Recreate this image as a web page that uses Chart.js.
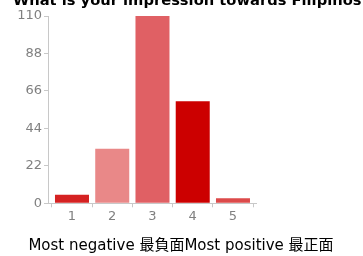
<!DOCTYPE html>
<html>
<head>
<meta charset="utf-8">
<script src="https://cdn.jsdelivr.net/npm/chart.js@4"></script>
<style>
  html, body { margin: 0; padding: 0; background: #fff; }
  #wrap { width: 363px; height: 256px; position: relative; }
</style>
</head>
<body>
<div id="wrap"><canvas id="impressionChart" width="363" height="256"></canvas></div>
<script>
const categories = ["1", "2", "3", "4", "5"];
const responses = [5, 32, 110, 60, 3];
const barColors = ["#d52222", "#e98888", "#e06064", "#cc0000", "#dc4a4a"];
const yTicks = [0, 22, 44, 66, 88, 110];

const chartTitle = "What is your impression towards Filipinos";
const axisTitle = "Most negative 最負面Most positive 最正面";

const tickFont = { family: "'DejaVu Sans', sans-serif", size: 13 };

// bars sit on a numeric x axis so the gap before the first bar can match
const barPoints = categories.map((c, i) => ({ x: i + 1, y: responses[i] }));

// the chart title sits half off the top edge and the axis title is centred
// on the whole picture, not on the plot, so both are drawn here
const extraText = {
    id: "extraText",
    afterDraw(chart) {
        const ctx = chart.ctx;
        ctx.save();
        ctx.fillStyle = "#000";
        ctx.textBaseline = "alphabetic";
        ctx.textAlign = "left";
        ctx.font = "bold 14.7px 'DejaVu Sans', sans-serif";
        ctx.fillText(chartTitle, 13, 5);

        ctx.textAlign = "center";
        ctx.textBaseline = "middle";
        ctx.font = "15px 'DejaVu Sans', 'Noto Sans CJK TC', sans-serif";
        ctx.fillText(axisTitle, 181, 246);
        ctx.restore();
    }
};

new Chart(
    document.getElementById("impressionChart"),
    {
        type: "bar",
        data: {
            datasets: [{
                data: barPoints,
                backgroundColor: barColors,
                borderWidth: 0,
                barPercentage: 0.845,
                categoryPercentage: 1
            }]
        },
        options: {
            responsive: false,
            animation: false,
            layout: {
                padding: { left: 0, right: 107, top: 16, bottom: 0 }
            },
            plugins: {
                legend: { display: false },
                tooltip: { enabled: false }
            },
            scales: {
                x: {
                    type: "linear",
                    offset: false,
                    min: 0.404,
                    max: 5.572,
                    afterBuildTicks(scale) {
                        scale.ticks = categories.map((c, i) => ({ value: i + 1 }));
                    },
                    grid: {
                        drawOnChartArea: false,
                        drawTicks: true,
                        tickLength: 4,
                        color: "#c8c8c8"
                    },
                    border: { color: "#c8c8c8" },
                    ticks: {
                        color: "#808080",
                        padding: 2,
                        font: tickFont,
                        callback: (value) => categories[value - 1]
                    },
                    afterFit(scale) { scale.height = 52.7; }
                },
                y: {
                    min: 0,
                    max: 110,
                    afterBuildTicks(scale) {
                        scale.ticks = yTicks.map(v => ({ value: v }));
                    },
                    grid: {
                        drawOnChartArea: false,
                        drawTicks: true,
                        tickLength: 4,
                        color: "#c8c8c8"
                    },
                    border: { color: "#c8c8c8" },
                    ticks: {
                        color: "#808080",
                        padding: 2,
                        font: tickFont
                    },
                    afterFit(scale) { scale.width = 48; }
                }
            }
        },
        plugins: [extraText]
    }
);
</script>
</body>
</html>
